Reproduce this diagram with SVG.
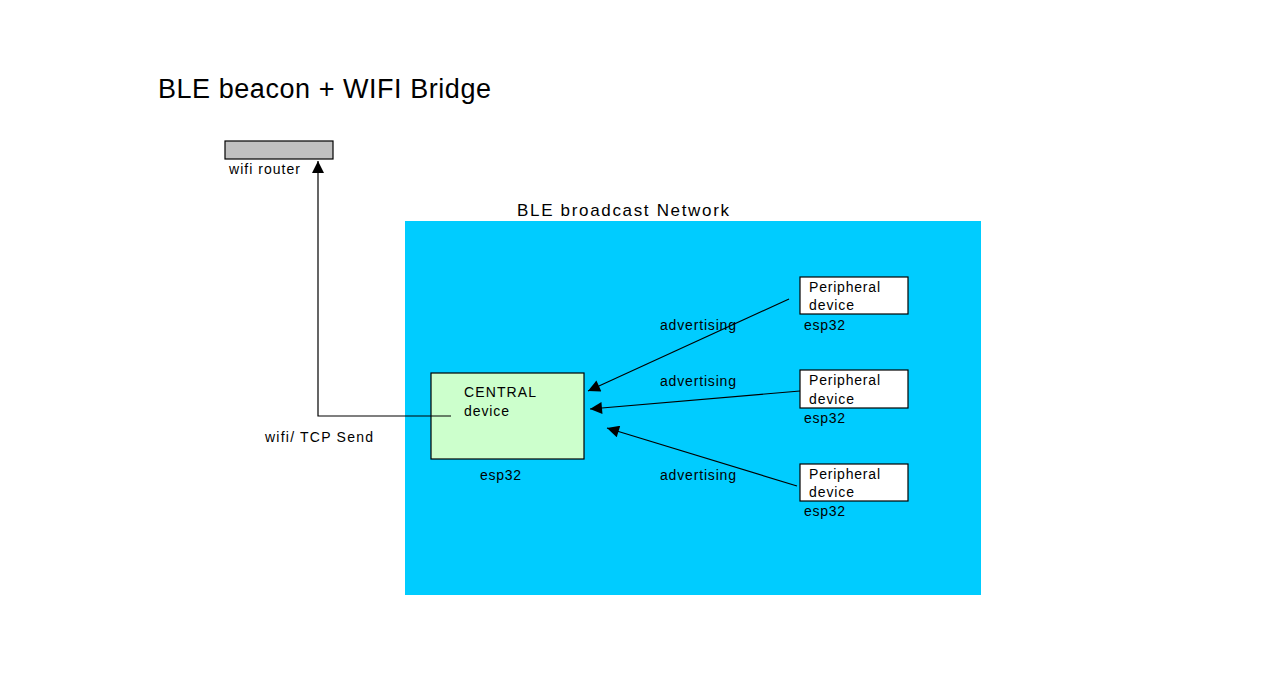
<svg xmlns="http://www.w3.org/2000/svg" width="1279" height="679" viewBox="0 0 1279 679">
<style>
text{font-family:"Liberation Sans","Noto Sans CJK JP",sans-serif;fill:#000}
.s{font-size:14px}
.box{stroke:#000;stroke-width:1.2}
.ln{stroke:#000;stroke-width:1.2;fill:none}
</style>
<defs>
<marker id="ah" viewBox="0 0 10 10" refX="10" refY="5" markerWidth="14" markerHeight="12" markerUnits="userSpaceOnUse" orient="auto"><path d="M0,0L10,5L0,10z" fill="#000"/></marker>
</defs>
<rect width="1279" height="679" fill="#fff"/>
<text x="158" y="98" font-size="27" textLength="333" lengthAdjust="spacing">BLE beacon + WIFI Bridge</text>
<g id="network">
<rect x="405" y="221" width="576" height="374" fill="#00ccff"/>
<text x="517" y="216" font-size="17" textLength="212" lengthAdjust="spacing">BLE broadcast Network</text>
</g>
<g id="router">
<rect class="box" x="225" y="141" width="108" height="18" fill="#c0c0c0"/>
<text class="s" x="229" y="174" textLength="71" lengthAdjust="spacing">wifi router</text>
</g>
<g id="central">
<rect class="box" x="431" y="373" width="153" height="86" fill="#ccffcc"/>
<text class="s" x="464" y="397" textLength="72" lengthAdjust="spacing">CENTRAL</text>
<text class="s" x="464" y="416" textLength="45" lengthAdjust="spacing">device</text>
<text class="s" x="480" y="480" textLength="41" lengthAdjust="spacing">esp32</text>
</g>
<g id="p1">
<rect class="box" x="800" y="277" width="108" height="37" fill="#fff"/>
<text class="s" x="809" y="292" textLength="71" lengthAdjust="spacing">Peripheral</text>
<text class="s" x="809" y="310" textLength="45" lengthAdjust="spacing">device</text>
<text class="s" x="804" y="330" textLength="41" lengthAdjust="spacing">esp32</text>
</g>
<g id="p2">
<rect class="box" x="800" y="370" width="108" height="38" fill="#fff"/>
<text class="s" x="809" y="385" textLength="71" lengthAdjust="spacing">Peripheral</text>
<text class="s" x="809" y="404" textLength="45" lengthAdjust="spacing">device</text>
<text class="s" x="804" y="423" textLength="41" lengthAdjust="spacing">esp32</text>
</g>
<g id="p3">
<rect class="box" x="800" y="464" width="108" height="37" fill="#fff"/>
<text class="s" x="809" y="479" textLength="71" lengthAdjust="spacing">Peripheral</text>
<text class="s" x="809" y="497" textLength="45" lengthAdjust="spacing">device</text>
<text class="s" x="804" y="516" textLength="41" lengthAdjust="spacing">esp32</text>
</g>
<g id="connectors">
<polyline class="ln" points="451,416 318,416 318,161" marker-end="url(#ah)"/>
<line class="ln" x1="789" y1="299" x2="588" y2="391" marker-end="url(#ah)"/>
<line class="ln" x1="800" y1="391" x2="590" y2="409" marker-end="url(#ah)"/>
<line class="ln" x1="797" y1="486" x2="607" y2="428" marker-end="url(#ah)"/>
<text class="s" x="265" y="442" textLength="108" lengthAdjust="spacing">wifi/ TCP Send</text>
<text class="s" x="660" y="330" textLength="76" lengthAdjust="spacing">advertising</text>
<text class="s" x="660" y="386" textLength="76" lengthAdjust="spacing">advertising</text>
<text class="s" x="660" y="480" textLength="76" lengthAdjust="spacing">advertising</text>
</g>
</svg>
